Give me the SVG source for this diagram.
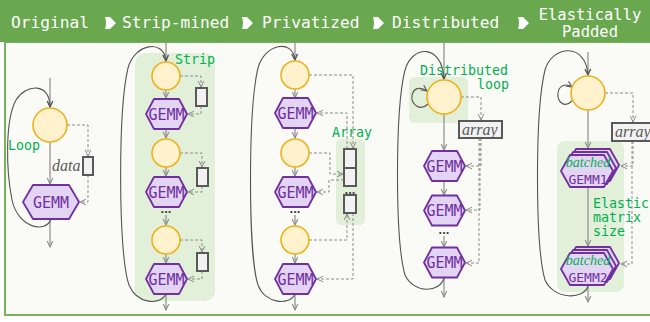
<svg xmlns="http://www.w3.org/2000/svg" xmlns:xlink="http://www.w3.org/1999/xlink" width="650" height="322" viewBox="0 0 650 322">
  <defs>
    <style>
      .hdr { font-family: "DejaVu Sans Mono", "Liberation Mono", monospace; fill: #ffffff; }
      .lbl { font-family: "DejaVu Sans Mono", "Liberation Mono", monospace; font-size: 13.3px; fill: #00b050; }
      .gemm-t { font-family: "DejaVu Sans Mono", "Liberation Mono", monospace; font-size: 15px; fill: #7030a0; text-anchor: middle; }
      .gemm-s { font-family: "DejaVu Sans Mono", "Liberation Mono", monospace; font-size: 13px; fill: #7030a0; text-anchor: middle; }
      .ital { font-family: "Liberation Serif", "DejaVu Serif", serif; font-style: italic; font-size: 16px; fill: #595959; }
      .bat { font-family: "Liberation Serif", "DejaVu Serif", serif; font-style: italic; font-size: 14px; fill: #00b050; text-anchor: middle; }
      .dots { font-family: "Liberation Sans", Arial, sans-serif; font-size: 13px; font-weight: bold; fill: #404040; text-anchor: middle; }
      .loop-node { fill: #fff2cc; stroke: #eeb21f; stroke-width: 1.6; }
      .hex { fill: #e4d4f4; stroke: #7030a0; stroke-width: 1.8; stroke-linejoin: round; }
      .buf { fill: #f2f2f2; stroke: #595959; stroke-width: 2; }
      .zone { fill: #e2efd9; }
      .flow { fill: none; stroke: #8c8c8c; stroke-width: 1.2; marker-end: url(#ah); }
      .dep { fill: none; stroke: #8c8c8c; stroke-width: 1; stroke-dasharray: 3 2; marker-end: url(#ahd); }
      .back { fill: none; stroke: #555555; stroke-width: 1.1; marker-end: url(#ahb); }
    </style>
    <marker id="ah" viewBox="0 0 8 8" refX="7" refY="4" markerWidth="8" markerHeight="8" markerUnits="userSpaceOnUse" orient="auto">
      <path d="M1,1.2 L7,4 L1,6.8" fill="none" stroke="#8c8c8c" stroke-width="1.1"/>
    </marker>
    <marker id="ahd" viewBox="0 0 8 8" refX="7" refY="4" markerWidth="8" markerHeight="8" markerUnits="userSpaceOnUse" orient="auto">
      <path d="M1,1.2 L7,4 L1,6.8" fill="none" stroke="#8c8c8c" stroke-width="1"/>
    </marker>
    <marker id="ahb" viewBox="0 0 8 8" refX="7" refY="4" markerWidth="8" markerHeight="8" markerUnits="userSpaceOnUse" orient="auto">
      <path d="M1,1.2 L7,4 L1,6.8" fill="none" stroke="#555555" stroke-width="1.1"/>
    </marker>
    <path id="step" d="M0,0 H5 L11,6 L5,12 H0 Q2,6 0,0 Z" fill="#ffffff"/>
    <polygon id="hexS" points="-20.5,0 -12.5,-15 12.5,-15 20.5,0 12.5,15 -12.5,15"/>
    <polygon id="hexB" points="-26,0 -17,-16 17,-16 26,0 17,16 -17,16"/>
  </defs>

  <!-- page -->
  <rect x="0" y="0" width="650" height="322" fill="#ffffff"/>
  <rect x="5" y="42" width="650" height="273" fill="#fafaf6" stroke="#78b25a" stroke-width="2"/>

  <!-- title bar -->
  <g id="title-bar">
    <rect x="0" y="0" width="650" height="42" fill="#6aa84f"/>
    <text class="hdr" x="11" y="28" font-size="16.2">Original</text>
    <use xlink:href="#step" x="105" y="17"/>
    <text class="hdr" x="122" y="28" font-size="16.2">Strip-mined</text>
    <use xlink:href="#step" x="242" y="17"/>
    <text class="hdr" x="262" y="28" font-size="16.2">Privatized</text>
    <use xlink:href="#step" x="373" y="17"/>
    <text class="hdr" x="392" y="28" font-size="16.2">Distributed</text>
    <use xlink:href="#step" x="518" y="17"/>
    <text class="hdr" x="590" y="20" font-size="15.5" text-anchor="middle">Elastically</text>
    <text class="hdr" x="590" y="37" font-size="15.5" text-anchor="middle">Padded</text>
  </g>

  <!-- shaded regions -->
  <g id="zones">
    <rect class="zone" x="135" y="53" width="80" height="248" rx="10"/>
    <rect class="zone" x="336" y="139" width="29" height="86" rx="5"/>
    <rect class="zone" x="409" y="77" width="59" height="46" rx="6"/>
    <rect class="zone" x="557" y="141" width="67" height="151" rx="8"/>
  </g>

  <!-- connectors -->
  <g id="connectors">
    <!-- original -->
    <path class="flow" d="M50,78 V107"/>
    <path class="flow" d="M50,142 V184"/>
    <path class="flow" d="M50,219 V247"/>
    <path class="dep" d="M67,125 H88 V156"/>
    <path class="dep" d="M88,175 V202 H80"/>
    <path class="back" d="M51,219 C46,234 18,228 12,200 C6,170 5,120 16,100 C26,84 50,82 50,107"/>

    <!-- strip-mined -->
    <path class="flow" d="M166,42 V61"/>
    <path class="flow" d="M166,90 V98"/>
    <path class="flow" d="M166,129 V138"/>
    <path class="flow" d="M166,167 V176"/>
    <path class="flow" d="M166,215 V225"/>
    <path class="flow" d="M166,254 V263"/>
    <path class="flow" d="M166,294 V310"/>
    <path class="dep" d="M180,76 H201 V87"/>
    <path class="dep" d="M201,106 V114 H188"/>
    <path class="dep" d="M180,153 H202 V167"/>
    <path class="dep" d="M202,186 V192 H188"/>
    <path class="dep" d="M180,240 H202 V252"/>
    <path class="dep" d="M202,271 V279 H188"/>
    <path class="back" d="M166,294 C160,306 137,304 129,285 C118,255 118,110 128,68 C134,44 164,38 166,61"/>

    <!-- privatized -->
    <path class="flow" d="M295,42 V60"/>
    <path class="flow" d="M295,89 V98"/>
    <path class="flow" d="M295,128 V138"/>
    <path class="flow" d="M295,167 V176"/>
    <path class="flow" d="M295,215 V225"/>
    <path class="flow" d="M295,254 V263"/>
    <path class="flow" d="M295,294 V310"/>
    <path class="dep" d="M309,75 H353 V148"/>
    <path class="dep" d="M347,149 V113 H317"/>
    <path class="dep" d="M309,153 H330 V174 H343"/>
    <path class="dep" d="M344,180 H329 V192 H317"/>
    <path class="dep" d="M309,240 H347 V214"/>
    <path class="dep" d="M353,213 V279 H317"/>
    <path class="back" d="M295,294 C290,306 265,304 258,285 C248,255 248,110 258,68 C264,44 293,38 295,60"/>

    <!-- distributed -->
    <path class="flow" d="M444,42 V79"/>
    <path class="flow" d="M444,114 V150"/>
    <path class="flow" d="M444,181 V195"/>
    <path class="flow" d="M444,236 V247"/>
    <path class="flow" d="M444,277 V297"/>
    <path class="dep" d="M461,97 H481 V120"/>
    <path class="dep" d="M481,138 V166 H466"/>
    <path class="dep" d="M480,138 V210 H466"/>
    <path class="dep" d="M479,138 V263 H466"/>
    <path class="back" d="M428,104 C420,112 411,104 412,96 C413,88 420,86 427,91"/>
    <path class="back" d="M444,278 C440,293 414,294 405,275 C395,240 395,110 405,70 C412,45 442,43 444,79"/>

    <!-- elastically padded -->
    <path class="flow" d="M588,52 V75"/>
    <path class="flow" d="M588,110 V148"/>
    <path class="flow" d="M588,187 V246"/>
    <path class="flow" d="M588,285 V302"/>
    <path class="dep" d="M605,93 H633 V122"/>
    <path class="dep" d="M633,141 V166 H621"/>
    <path class="dep" d="M632,141 V264 H621"/>
    <path class="back" d="M572,101 C564,109 557,101 558,93 C559,85 566,83 572,87"/>
    <path class="back" d="M588,286 C584,300 554,300 545,280 C535,245 535,110 545,70 C552,45 586,42 588,75"/>
  </g>

  <!-- original -->
  <g id="orig-loop">
    <circle class="loop-node" cx="50" cy="125" r="17"/>
    <text class="lbl" x="8" y="150">Loop</text>
  </g>
  <g id="orig-data">
    <rect class="buf" x="83" y="157" width="10" height="18"/>
    <text class="ital" x="52" y="171">data</text>
  </g>
  <g id="orig-gemm">
    <polygon class="hex" points="23,202 33,185 69,185 79,202 69,219 33,219"/>
    <text class="gemm-t" x="51" y="207.5">GEMM</text>
  </g>

  <!-- strip-mined -->
  <g id="strip-label"><text class="lbl" x="175" y="64">Strip</text></g>
  <g id="strip-loop1"><circle class="loop-node" cx="166" cy="76" r="14"/></g>
  <g id="strip-gemm1"><use class="hex" xlink:href="#hexS" x="166.5" y="114"/><text class="gemm-t" x="166.5" y="119.5">GEMM</text></g>
  <g id="strip-buf1"><rect class="buf" x="196" y="88" width="11" height="18"/></g>
  <g id="strip-loop2"><circle class="loop-node" cx="166" cy="153" r="14"/></g>
  <g id="strip-gemm2"><use class="hex" xlink:href="#hexS" x="166.5" y="192"/><text class="gemm-t" x="166.5" y="197.5">GEMM</text></g>
  <g id="strip-buf2"><rect class="buf" x="197" y="168" width="11" height="18"/></g>
  <text class="dots" x="166" y="213">...</text>
  <g id="strip-loop3"><circle class="loop-node" cx="166" cy="240" r="14"/></g>
  <g id="strip-gemm3"><use class="hex" xlink:href="#hexS" x="166.5" y="279"/><text class="gemm-t" x="166.5" y="284.5">GEMM</text></g>
  <g id="strip-buf3"><rect class="buf" x="197" y="253" width="11" height="18"/></g>

  <!-- privatized -->
  <g id="priv-loop1"><circle class="loop-node" cx="295" cy="75" r="14"/></g>
  <g id="priv-gemm1"><use class="hex" xlink:href="#hexS" x="295.5" y="113"/><text class="gemm-t" x="295.5" y="118.5">GEMM</text></g>
  <g id="priv-loop2"><circle class="loop-node" cx="295" cy="153" r="14"/></g>
  <g id="priv-gemm2"><use class="hex" xlink:href="#hexS" x="295.5" y="192"/><text class="gemm-t" x="295.5" y="197.5">GEMM</text></g>
  <text class="dots" x="295" y="213">...</text>
  <g id="priv-loop3"><circle class="loop-node" cx="295" cy="240" r="14"/></g>
  <g id="priv-gemm3"><use class="hex" xlink:href="#hexS" x="295.5" y="279"/><text class="gemm-t" x="295.5" y="284.5">GEMM</text></g>
  <g id="priv-array">
    <text class="lbl" x="332" y="137">Array</text>
    <rect class="buf" x="344" y="149" width="12" height="19"/>
    <rect class="buf" x="344" y="168" width="12" height="18"/>
    <text class="dots" x="350" y="194">...</text>
    <rect class="buf" x="344" y="195" width="12" height="18"/>
  </g>

  <!-- distributed -->
  <g id="dist-loop">
    <text class="lbl" x="420" y="75">Distributed</text>
    <text class="lbl" x="509" y="89" text-anchor="end">loop</text>
    <circle class="loop-node" cx="444" cy="97" r="17"/>
  </g>
  <g id="dist-array">
    <rect class="buf" x="459" y="121" width="43" height="17"/>
    <text class="ital" x="462" y="135">array</text>
  </g>
  <g id="dist-gemm1"><use class="hex" xlink:href="#hexS" x="444.5" y="166"/><text class="gemm-t" x="444.5" y="171.5">GEMM</text></g>
  <g id="dist-gemm2"><use class="hex" xlink:href="#hexS" x="444.5" y="210.5"/><text class="gemm-t" x="444.5" y="216">GEMM</text></g>
  <text class="dots" x="444" y="234">...</text>
  <g id="dist-gemm3"><use class="hex" xlink:href="#hexS" x="444.5" y="262.5"/><text class="gemm-t" x="444.5" y="268">GEMM</text></g>

  <!-- elastically padded -->
  <g id="pad-loop"><circle class="loop-node" cx="588" cy="93" r="17"/></g>
  <g id="pad-array">
    <rect class="buf" x="612" y="123" width="50" height="18"/>
    <text class="ital" x="615" y="137">array</text>
  </g>
  <g id="pad-gemm1">
    <use class="hex" xlink:href="#hexB" x="593" y="165"/>
    <use class="hex" xlink:href="#hexB" x="590" y="168"/>
    <use class="hex" xlink:href="#hexB" x="587" y="171"/>
    <text class="bat" x="588" y="167">batched</text>
    <text class="gemm-s" x="588" y="184">GEMM1</text>
  </g>
  <g id="pad-size">
    <text class="lbl" x="593" y="208">Elastic</text>
    <text class="lbl" x="593" y="222">matrix</text>
    <text class="lbl" x="593" y="236">size</text>
  </g>
  <g id="pad-gemm2">
    <use class="hex" xlink:href="#hexB" x="593" y="263"/>
    <use class="hex" xlink:href="#hexB" x="590" y="266"/>
    <use class="hex" xlink:href="#hexB" x="587" y="269"/>
    <text class="bat" x="588" y="265">batched</text>
    <text class="gemm-s" x="588" y="282">GEMM2</text>
  </g>
</svg>
